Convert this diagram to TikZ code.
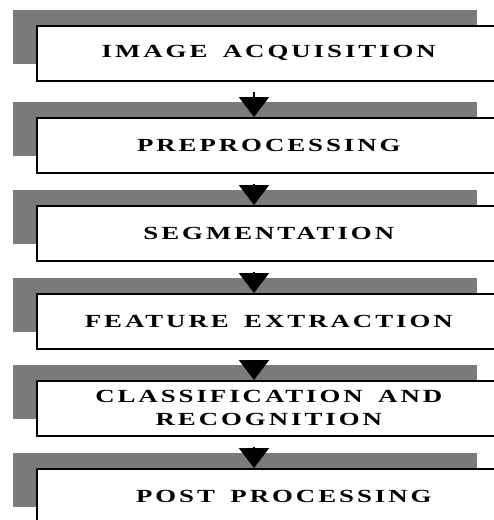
\documentclass[tikz,border=0pt]{standalone}
\usepackage{fontspec}
\usetikzlibrary{arrows.meta,backgrounds}
\newfontfamily\lblfont{Liberation Serif}[UprightFont=* Bold, FakeStretch=1.45, LetterSpace=16, WordSpace=1.6]
\definecolor{shadowgray}{RGB}{122,122,122}
\begin{document}
\begin{tikzpicture}[x=1pt,y=-1pt,
  stage/.style={draw=black, line width=1.6pt, fill=white,
    minimum width=464pt, minimum height=55pt, anchor=north west,
    inner sep=0pt, align=center,
    font=\lblfont\fontsize{18.5}{23}\selectfont},
  backshade/.style={fill=shadowgray},
  arr/.style={-{Triangle[width=30pt,length=20pt]}, line width=2pt, shorten <=10pt}]
\useasboundingbox (0,0) rectangle (494,520);
\clip (0,0) rectangle (494,520);
\node[stage] (s1) at (36,25)  {IMAGE ACQUISITION};
\node[stage] (s2) at (36,117) {PREPROCESSING};
\node[stage] (s3) at (36,205) {SEGMENTATION};
\node[stage] (s4) at (36,293) {FEATURE EXTRACTION};
\node[stage] (s5) at (36,380) {CLASSIFICATION AND\\RECOGNITION};
\node[stage] (s6) at (36,468) {\hspace*{30pt}POST PROCESSING};
\begin{scope}[on background layer]
\foreach \s in {s1,s2,s3,s4,s5,s6}
  \fill[backshade] ([shift={(-23,-15)}]\s.north west) rectangle ++(464,54);
\end{scope}
\coordinate (ax) at (254,0);
\draw[arr] (s1.south -| ax) -- (s2.north -| ax);
\draw[arr] (s2.south -| ax) -- (s3.north -| ax);
\draw[arr] (s3.south -| ax) -- (s4.north -| ax);
\draw[arr] (s4.south -| ax) -- (s5.north -| ax);
\draw[arr] (s5.south -| ax) -- (s6.north -| ax);
\end{tikzpicture}
\end{document}
